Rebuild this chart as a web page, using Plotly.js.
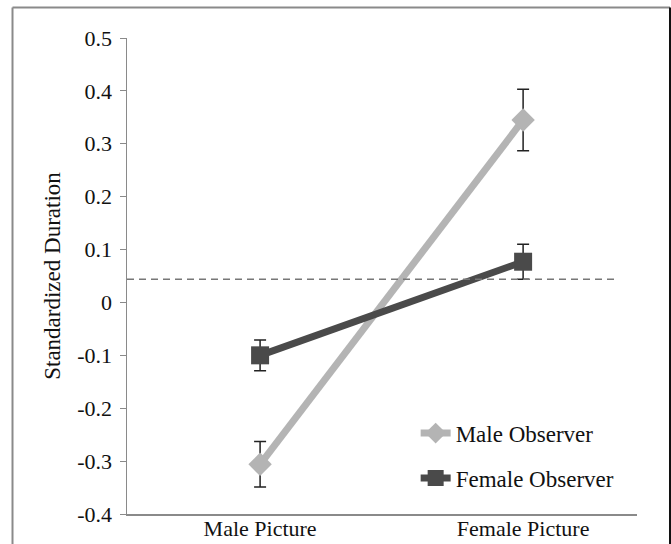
<!DOCTYPE html>
<html>
<head>
<meta charset="utf-8">
<script src="https://cdn.plot.ly/plotly-3.0.1.min.js"></script>
<style>html,body{margin:0;padding:0;background:#fff;}#chart{width:671px;height:544px;}</style>
</head>
<body>
<div id="chart"></div>
<script>
const categories = ["Male Picture", "Female Picture"];
const maleObserver = [-0.306, 0.345];
const maleObserverErr = [0.043, 0.058];
const femaleObserver = [-0.100, 0.077];
const femaleObserverErr = [0.029, 0.033];
const baselineValue = [0.044];
const yTickVals = [0.5, 0.4, 0.3, 0.2, 0.1, 0, -0.1, -0.2, -0.3, -0.4];
const yTickText = ["0.5", "0.4", "0.3", "0.2", "0.1", "0", "-0.1", "-0.2", "-0.3", "-0.4"];

const serif = "Liberation Serif";

const traces = [
  {
    x: categories, y: maleObserver, name: "Male Observer", type: "scatter", mode: "lines+markers",
    legendgroup: "a",
    line: {color: "#b4b4b4", width: 7},
    marker: {symbol: "diamond", size: 18, color: "#b4b4b4"},
    error_y: {type: "data", array: maleObserverErr, visible: true, color: "#222", thickness: 1.5, width: 6}
  },
  {
    x: categories, y: femaleObserver, name: "Female Observer", type: "scatter", mode: "lines+markers",
    legendgroup: "b",
    line: {color: "#4a4a4a", width: 7},
    marker: {symbol: "square", size: 18, color: "#4a4a4a"},
    error_y: {type: "data", array: femaleObserverErr, visible: true, color: "#222", thickness: 1.5, width: 6}
  }
];

const layout = {
  width: 671, height: 544,
  margin: {l: 127, r: 34, t: 38, b: 30},
  paper_bgcolor: "#fff", plot_bgcolor: "#fff",
  font: {family: serif, color: "#111", size: 22},
  showlegend: true,
  legend: {x: 0.566, y: 0.215, xanchor: "left", yanchor: "top", bgcolor: "rgba(0,0,0,0)",
           font: {family: serif, size: 23, color: "#111"}, tracegroupgap: 12, traceorder: "grouped"},
  xaxis: {
    type: "category", range: [-0.506, 1.433],
    showline: true, linecolor: "#8a8a8a", linewidth: 1.5,
    ticks: "", showgrid: false, zeroline: false, ticklabelstandoff: -6,
    tickfont: {family: serif, size: 22, color: "#111"}
  },
  yaxis: {
    range: [-0.4, 0.5], tickvals: yTickVals, ticktext: yTickText,
    showline: true, linecolor: "#8a8a8a", linewidth: 1.5,
    ticks: "outside", ticklen: 6, tickcolor: "#8a8a8a", ticklabelstandoff: 3,
    showgrid: false, zeroline: false,
    tickfont: {family: serif, size: 22, color: "#111"},
    title: {text: "Standardized Duration", font: {family: serif, size: 23, color: "#111"}, standoff: 10}
  },
  shapes: [
    {type: "line", xref: "paper", yref: "y", x0: 0, x1: 0.957, y0: baselineValue[0], y1: baselineValue[0],
     line: {color: "#777", width: 1.5, dash: "7px,5px"}},
    {type: "line", xref: "paper", yref: "paper", x0: -0.2245, x1: -0.2245, y0: -0.2, y1: 1.064,
     line: {color: "#8a8a8a", width: 2}},
    {type: "line", xref: "paper", yref: "paper", x0: -0.2245, x1: 1.0647, y0: 1.064, y1: 1.064,
     line: {color: "#8a8a8a", width: 2}},
    {type: "line", xref: "paper", yref: "paper", x0: 1.0647, x1: 1.0647, y0: -0.2, y1: 1.064,
     line: {color: "#111", width: 2}}
  ]
};

Plotly.newPlot("chart", traces, layout, {displayModeBar: false, staticPlot: true});
</script>
</body>
</html>
